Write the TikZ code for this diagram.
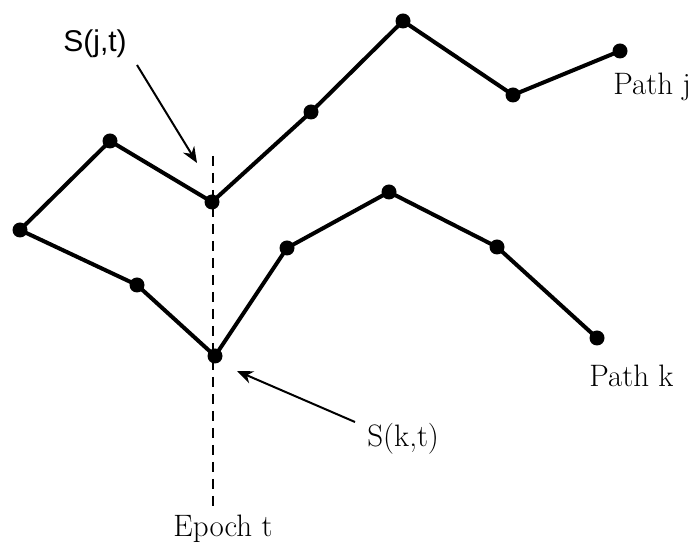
\documentclass[tikz,border=0pt]{standalone}
\usepackage{fontspec}
\newfontfamily\labelsans{Liberation Sans}
\usetikzlibrary{arrows.meta}
\tikzset{
    dot/.style={
        circle,
        fill=black,
        inner sep=0pt,
        minimum size=7.5pt,
    },
    walk/.style={
        draw,
        line width=2pt,
        line join=round,
    },
    pointer/.style={
        draw,
        -{Stealth[length=8pt,width=6.5pt]},
        line width=1pt,
    },
    epoch/.style={
        draw,
        line width=1.2pt,
        dash pattern=on 5pt off 3.5pt,
    },
    tag/.style={
        font=\fontsize{15.5}{18}\selectfont,
        inner sep=0pt,
    },
}
\begin{document}
\begin{tikzpicture}[x=0.5pt,y=-0.5pt]
    \useasboundingbox (0,0) rectangle (697,550);

    % points of the two paths
    \foreach \name/\x/\y in {s0/20/230, j1/110/141, j2/212/202, j3/311/112,
                             j4/403/21, j5/513/95, j6/620/51,
                             k1/137/285, k2/215/356, k3/287/248, k4/389/192,
                             k5/497/247, k6/597/338}
        \node[dot] (\name) at (\x,\y) {};

    \draw[walk] (s0.center) -- (j1.center) -- (j2.center) -- (j3.center)
        -- (j4.center) -- (j5.center) -- (j6.center);
    \draw[walk] (s0.center) -- (k1.center) -- (k2.center) -- (k3.center)
        -- (k4.center) -- (k5.center) -- (k6.center);

    % epoch line
    \coordinate (etop) at (213,156);
    \coordinate (ebot) at (213,509);
    \draw[epoch] (etop) -- (ebot);
    \node[tag, anchor=base] (epoch) at (223,537) {Epoch t};

    % labels
    \node[tag, anchor=base west] (pathj) at (613,95) {Path j};
    \node[tag, anchor=base west] (pathk) at (589,387) {Path k};
    \node[tag, anchor=base west, font=\labelsans\fontsize{15}{18}\selectfont] (sj) at (63,52) {S(j,t)};
    \node[tag, anchor=base west] (sk) at (367,447) {S(k,t)};

    \coordinate (sjtail) at (137,65);
    \coordinate (sjtip) at (197,163);
    \coordinate (sktail) at (355,422);
    \coordinate (sktip) at (237,371);
    \draw[pointer] (sjtail) -- (sjtip);
    \draw[pointer] (sktail) -- (sktip);
\end{tikzpicture}
\end{document}
